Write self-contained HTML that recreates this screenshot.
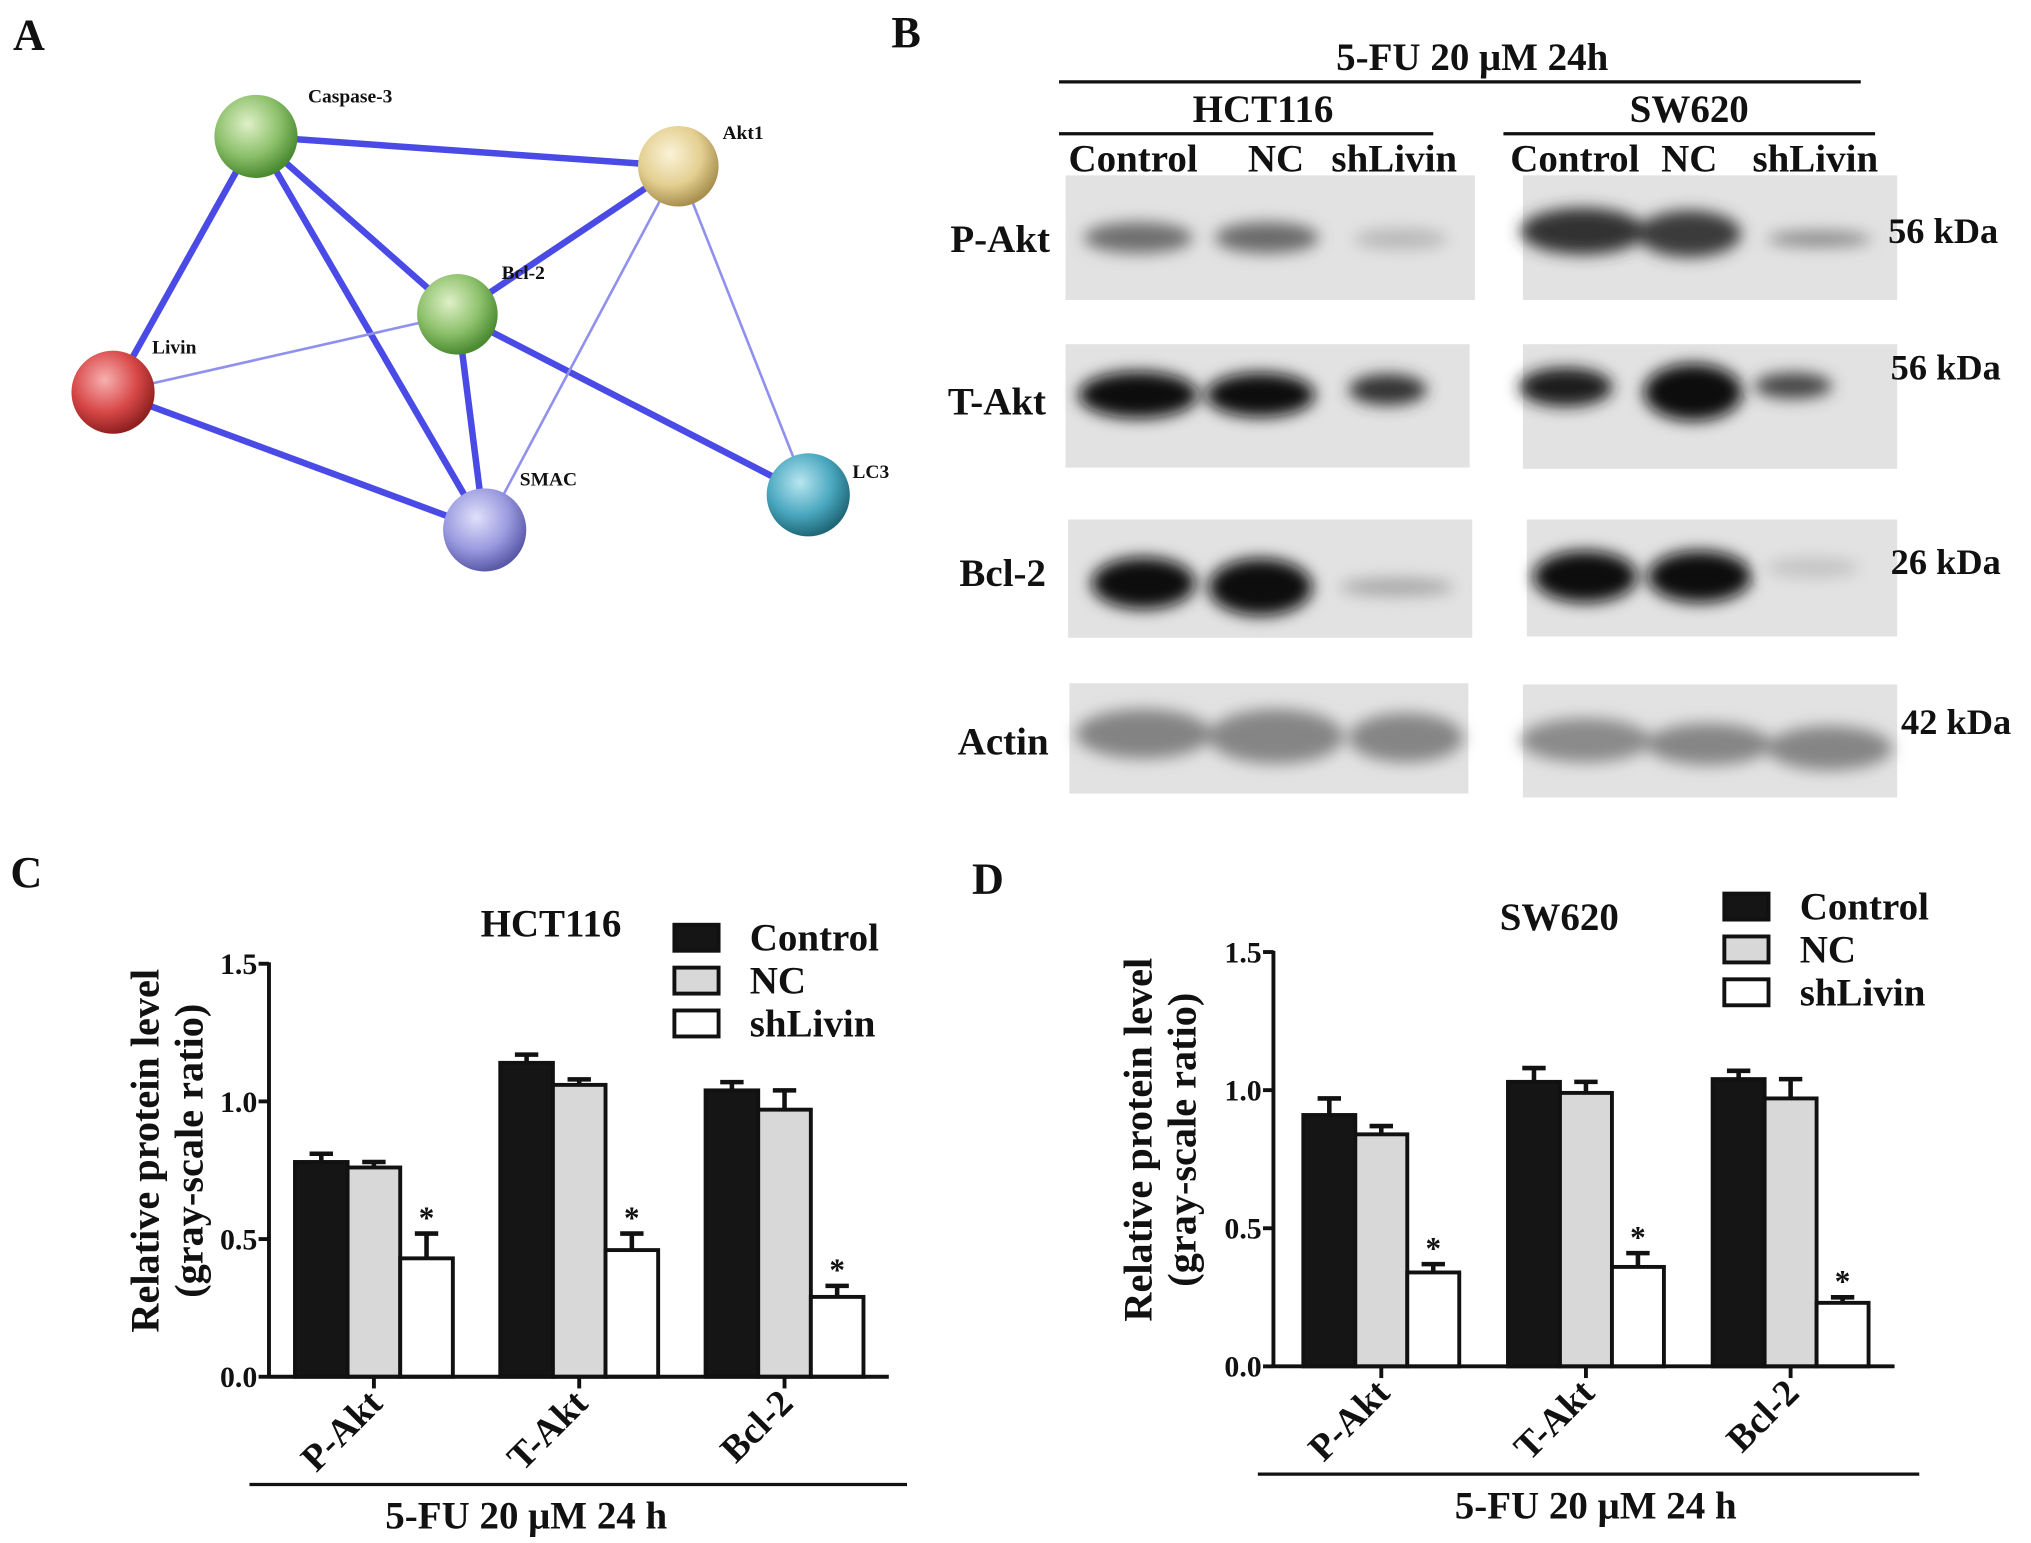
<!DOCTYPE html>
<html><head><meta charset="utf-8"><style>
html,body{margin:0;padding:0;background:#fff;width:2031px;height:1543px;overflow:hidden}
svg{display:block}
text{font-family:"Liberation Serif",serif;font-weight:bold;fill:#111}
</style></head><body>
<svg id="fig" width="2031" height="1543" viewBox="0 0 1563 1188" preserveAspectRatio="none" xmlns="http://www.w3.org/2000/svg">
<defs>
<filter id="blur" x="-30%" y="-60%" width="160%" height="220%"><feGaussianBlur stdDeviation="6"/></filter>
<radialGradient id="gGreen" cx="40%" cy="35%" r="65%"><stop offset="0" stop-color="#dff0c8"/><stop offset="0.6" stop-color="#8cc06a"/><stop offset="1" stop-color="#4a8a30"/></radialGradient>
<radialGradient id="gYellow" cx="40%" cy="35%" r="65%"><stop offset="0" stop-color="#fbf3d8"/><stop offset="0.6" stop-color="#e3cf90"/><stop offset="1" stop-color="#a89050"/></radialGradient>
<radialGradient id="gRed" cx="40%" cy="35%" r="65%"><stop offset="0" stop-color="#f8b0b0"/><stop offset="0.6" stop-color="#d84848"/><stop offset="1" stop-color="#902020"/></radialGradient>
<radialGradient id="gBlue" cx="40%" cy="35%" r="65%"><stop offset="0" stop-color="#e0e0fa"/><stop offset="0.6" stop-color="#9a9ae0"/><stop offset="1" stop-color="#5a5aa8"/></radialGradient>
<radialGradient id="gTeal" cx="40%" cy="35%" r="65%"><stop offset="0" stop-color="#b8e6f0"/><stop offset="0.6" stop-color="#4aa8c0"/><stop offset="1" stop-color="#206878"/></radialGradient>
</defs>

<text x="10" y="38" font-size="34">A</text>
<text x="686" y="36" font-size="34">B</text>
<text x="8" y="683" font-size="34">C</text>
<text x="748" y="688" font-size="34">D</text>

<g>
<g stroke="#4a4ae6" stroke-width="5">
<line x1="197" y1="105" x2="522" y2="128"/>
<line x1="197" y1="105" x2="352" y2="242"/>
<line x1="197" y1="105" x2="87" y2="302"/>
<line x1="197" y1="105" x2="373" y2="408"/>
<line x1="352" y1="242" x2="522" y2="128"/>
<line x1="352" y1="242" x2="373" y2="408"/>
<line x1="352" y1="242" x2="622" y2="381"/>
<line x1="87" y1="302" x2="373" y2="408"/>
</g>
<g stroke="#9090ee" stroke-width="2">
<line x1="87" y1="302" x2="352" y2="242"/>
<line x1="522" y1="128" x2="373" y2="408"/>
<line x1="522" y1="128" x2="622" y2="381"/>
</g>
<circle cx="197" cy="105" r="32" fill="url(#gGreen)"/>
<circle cx="522" cy="128" r="31" fill="url(#gYellow)"/>
<circle cx="352" cy="242" r="31" fill="url(#gGreen)"/>
<circle cx="87" cy="302" r="32" fill="url(#gRed)"/>
<circle cx="373" cy="408" r="32" fill="url(#gBlue)"/>
<circle cx="622" cy="381" r="32" fill="url(#gTeal)"/>
<g font-size="15">
<text x="237" y="79">Caspase-3</text>
<text x="556" y="107">Akt1</text>
<text x="386" y="215">Bcl-2</text>
<text x="117" y="272">Livin</text>
<text x="400" y="374">SMAC</text>
<text x="656" y="368">LC3</text>
</g>
</g>

<g>
<g fill="#e2e2e2">
<rect x="820" y="135" width="315" height="96"/><rect x="1172" y="135" width="288" height="96"/>
<rect x="820" y="265" width="311" height="95"/><rect x="1172" y="265" width="288" height="96"/>
<rect x="822" y="400" width="311" height="91"/><rect x="1175" y="400" width="285" height="90"/>
<rect x="823" y="526" width="307" height="85"/><rect x="1172" y="527" width="288" height="87"/>
</g>
<g filter="url(#blur)">
<ellipse cx="876" cy="183" rx="42" ry="12" fill="#6e6e6e"/>
<ellipse cx="975" cy="183" rx="40" ry="12" fill="#6a6a6a"/>
<ellipse cx="1078" cy="184" rx="36" ry="8" fill="#b8b8b8"/>
<ellipse cx="1218" cy="178" rx="48" ry="18" fill="#333"/>
<ellipse cx="1300" cy="180" rx="40" ry="18" fill="#3a3a3a"/>
<ellipse cx="1400" cy="184" rx="40" ry="6" fill="#888"/>
<ellipse cx="876" cy="304" rx="46" ry="18" fill="#0a0a0a"/>
<ellipse cx="970" cy="304" rx="42" ry="17" fill="#111"/>
<ellipse cx="1068" cy="300" rx="30" ry="12" fill="#333"/>
<ellipse cx="1205" cy="298" rx="36" ry="15" fill="#1a1a1a"/>
<ellipse cx="1303" cy="302" rx="38" ry="22" fill="#111"/>
<ellipse cx="1380" cy="297" rx="30" ry="10" fill="#444"/>
<ellipse cx="880" cy="449" rx="40" ry="20" fill="#0a0a0a"/>
<ellipse cx="970" cy="452" rx="40" ry="22" fill="#080808"/>
<ellipse cx="1075" cy="452" rx="44" ry="7" fill="#a8a8a8"/>
<ellipse cx="1220" cy="444" rx="40" ry="20" fill="#0a0a0a"/>
<ellipse cx="1308" cy="444" rx="40" ry="20" fill="#0a0a0a"/>
<ellipse cx="1395" cy="437" rx="36" ry="8" fill="#c4c4c4"/>
<ellipse cx="880" cy="565" rx="52" ry="19" fill="#838383"/>
<ellipse cx="982" cy="567" rx="52" ry="21" fill="#858585"/>
<ellipse cx="1082" cy="568" rx="44" ry="19" fill="#858585"/>
<ellipse cx="1220" cy="570" rx="50" ry="17" fill="#8a8a8a"/>
<ellipse cx="1315" cy="573" rx="48" ry="16" fill="#858585"/>
<ellipse cx="1408" cy="576" rx="48" ry="17" fill="#858585"/>
</g>
<text x="1133" y="54" font-size="30" text-anchor="middle">5-FU 20 μM 24h</text>
<line x1="815" y1="63" x2="1432" y2="63" stroke="#111" stroke-width="2.5"/>
<text x="972" y="94" font-size="30" text-anchor="middle">HCT116</text>
<line x1="815" y1="103" x2="1103" y2="103" stroke="#111" stroke-width="2.5"/>
<text x="1300" y="94" font-size="30" text-anchor="middle">SW620</text>
<line x1="1157" y1="103" x2="1443" y2="103" stroke="#111" stroke-width="2.5"/>
<g font-size="30" text-anchor="middle">
<text x="872" y="132">Control</text><text x="982" y="132">NC</text><text x="1073" y="132">shLivin</text>
<text x="1212" y="132">Control</text><text x="1300" y="132">NC</text><text x="1397" y="132">shLivin</text>
</g>
<g font-size="30" text-anchor="end">
<text x="808" y="194">P-Akt</text><text x="805" y="319">T-Akt</text><text x="805" y="451">Bcl-2</text><text x="807" y="581">Actin</text>
</g>
<g font-size="28">
<text x="1453" y="187">56 kDa</text><text x="1455" y="292">56 kDa</text><text x="1455" y="442">26 kDa</text><text x="1463" y="565">42 kDa</text>
</g>
</g>

<g id="chartC"></g>
<g id="chartD"></g>
</svg>
<script>
const categories = ["P-Akt", "T-Akt", "Bcl-2"];
const seriesNames = ["Control", "NC", "shLivin"];
const yTicks = [0.0, 0.5, 1.0, 1.5];
const yTickLabels = ["0.0", "0.5", "1.0", "1.5"];
const hctControl = [0.78, 1.14, 1.04];
const hctNC = [0.76, 1.06, 0.97];
const hctSh = [0.43, 0.46, 0.29];
const hctControlErr = [0.03, 0.03, 0.03];
const hctNCErr = [0.02, 0.02, 0.07];
const hctShErr = [0.09, 0.06, 0.04];
const swControl = [0.91, 1.03, 1.04];
const swNC = [0.84, 0.99, 0.97];
const swSh = [0.34, 0.36, 0.23];
const swControlErr = [0.06, 0.05, 0.03];
const swNCErr = [0.03, 0.04, 0.07];
const swShErr = [0.03, 0.05, 0.02];

const NS = "http://www.w3.org/2000/svg";
function mk(parent, tag, attrs, txt) {
  const e = document.createElementNS(NS, tag);
  for (const k in attrs) e.setAttribute(k, attrs[k]);
  if (txt !== undefined) e.textContent = txt;
  parent.appendChild(e);
  return e;
}
const fills = ["#151515", "#d8d8d8", "#ffffff"];

function drawChart(g, cfg, vals, errs) {
  const yScale = v => cfg.y0 - (v / 1.5) * (cfg.y0 - cfg.y15);
  const xScale = (ci, si) => cfg.x0 + ci * cfg.groupStep + si * cfg.barW;
  for (let s = 0; s < 3; s++) {
    for (let c = 0; c < categories.length; c++) {
      const x = xScale(c, s), v = vals[s][c], e = errs[s][c];
      const yt = yScale(v), ye = yScale(v + e);
      const cx = x + cfg.barW / 2;
      const eb = mk(g, "path", { d: `M${cx} ${yt}V${ye}M${cx - 9} ${ye}H${cx + 9}`, stroke: "#111", "stroke-width": 3.5, fill: "none" });
      
      
      const r = mk(g, "rect", { x: x, y: yt, width: cfg.barW, height: cfg.y0 - yt, fill: fills[s], stroke: "#111", "stroke-width": 3 });
      
      
      if (s === 2) {
        const st = mk(g, "text", { x: cx, y: ye - 4, "font-size": 24, "text-anchor": "middle" }, "*");
        
        
      }
    }
  }
  const ya = mk(g, "line", { x1: cfg.ax, y1: cfg.y15 - 1, x2: cfg.ax, y2: cfg.y0 + 1, stroke: "#111", "stroke-width": 3 });
  
  
  const xa = mk(g, "line", { x1: cfg.ax, y1: cfg.y0, x2: cfg.xEnd, y2: cfg.y0, stroke: "#111", "stroke-width": 3 });
  
  
  for (let i = 0; i < yTicks.length; i++) {
    const y = yScale(yTicks[i]);
    mk(g, "line", { x1: cfg.ax - 8, y1: y, x2: cfg.ax, y2: y, stroke: "#111", "stroke-width": 3 });
    const t = mk(g, "text", { x: cfg.ax - 9, y: y + 8, "font-size": 23, "text-anchor": "end", "font-family": "Liberation Sans" }, yTickLabels[i]);
    
    
  }
  for (let c = 0; c < categories.length; c++) {
    const cx = xScale(c, 1) + cfg.barW / 2;
    mk(g, "line", { x1: cx, y1: cfg.y0, x2: cx, y2: cfg.y0 + 9, stroke: "#111", "stroke-width": 3 });
    const t = mk(g, "text", { x: cx + 8, y: cfg.y0 + 22, "font-size": 29, "text-anchor": "end", transform: `rotate(-45 ${cx + 8} ${cfg.y0 + 22})` }, categories[c]);
    
    
  }
  const yt1 = mk(g, "text", { x: 0, y: 0, "font-size": 31, "text-anchor": "middle", transform: `translate(${cfg.ytx} ${(cfg.y0 + cfg.y15) / 2 - 15}) rotate(-90)` }, "Relative protein level");
  
  
  const yt2 = mk(g, "text", { x: 0, y: 0, "font-size": 31, "text-anchor": "middle", transform: `translate(${cfg.ytx + 34} ${(cfg.y0 + cfg.y15) / 2 - 15}) rotate(-90)` }, "(gray-scale ratio)");
  
  
  const ti = mk(g, "text", { x: cfg.titleX, y: cfg.titleY, "font-size": 30, "text-anchor": "middle" }, cfg.title);
  
  
  for (let s = 0; s < 3; s++) {
    const ly = cfg.legY + s * cfg.legStep;
    const lr = mk(g, "rect", { x: cfg.legX, y: ly - 10, width: 34, height: 20, fill: fills[s], stroke: "#111", "stroke-width": 3 });
    
    
    const lt = mk(g, "text", { x: cfg.legX + 58, y: ly + 10, "font-size": 30 }, seriesNames[s]);
    
    
  }
  const bl = mk(g, "line", { x1: cfg.brX1, y1: cfg.brY, x2: cfg.brX2, y2: cfg.brY, stroke: "#111", "stroke-width": 2.5 });
  
  
  const bt = mk(g, "text", { x: cfg.brTextX, y: cfg.brY + 34, "font-size": 30, "text-anchor": "middle" }, "5-FU 20 μM 24 h");
  
  
}

drawChart(document.getElementById("chartC"), {
  ax: 207, y0: 1060, y15: 742, x0: 227, barW: 40.5, groupStep: 158, xEnd: 684, ytx: 122,
  title: "HCT116", titleX: 424, titleY: 721, legX: 519, legY: 722, legStep: 33,
  brX1: 192, brX2: 698, brY: 1143, brTextX: 405
}, [hctControl, hctNC, hctSh], [hctControlErr, hctNCErr, hctShErr]);

drawChart(document.getElementById("chartD"), {
  ax: 980, y0: 1052, y15: 733, x0: 1003, barW: 40, groupStep: 157.5, xEnd: 1458, ytx: 886,
  title: "SW620", titleX: 1200, titleY: 716, legX: 1327, legY: 698, legStep: 33,
  brX1: 968, brX2: 1477, brY: 1135, brTextX: 1228
}, [swControl, swNC, swSh], [swControlErr, swNCErr, swShErr]);
</script>
</body></html>
